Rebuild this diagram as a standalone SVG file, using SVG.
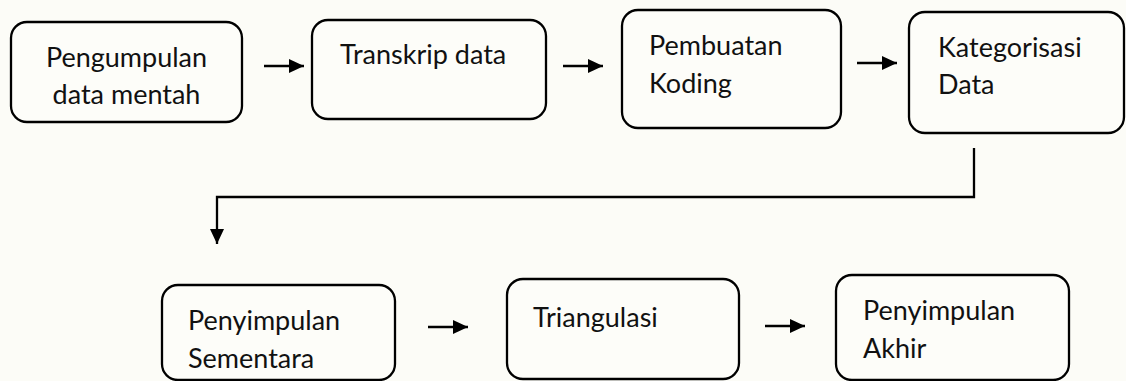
<svg xmlns="http://www.w3.org/2000/svg" width="1126" height="381" viewBox="0 0 1126 381">
<style>
.box{fill:#fdfdf9;stroke:#000;stroke-width:2.3}
.t{font-family:Lato,"Open Sans",sans-serif;font-size:27px;fill:#111}
.c{fill:none;stroke:#000;stroke-width:2.3}
</style>
<defs>
<marker id="ah" markerUnits="userSpaceOnUse" markerWidth="15" markerHeight="14" refX="15" refY="7" orient="auto">
<path d="M0,0 L15,7 L0,14 z" fill="#000"/>
</marker>
</defs>
<rect width="1126" height="381" fill="#fcfcf7"/>
<g id="n1"><rect class="box" x="11" y="22" width="231" height="100" rx="16"/>
<text class="t" x="126.5" y="67" text-anchor="middle">Pengumpulan</text>
<text class="t" x="126.5" y="104" text-anchor="middle">data mentah</text></g>
<g id="n2"><rect class="box" x="312" y="20" width="234" height="99" rx="16"/>
<text class="t" x="340" y="64">Transkrip data</text></g>
<g id="n3"><rect class="box" x="622" y="10" width="219" height="118" rx="16"/>
<text class="t" x="649" y="55">Pembuatan</text>
<text class="t" x="649" y="93">Koding</text></g>
<g id="n4"><rect class="box" x="909" y="12" width="215" height="121" rx="16"/>
<text class="t" x="938" y="57">Kategorisasi</text>
<text class="t" x="938" y="94">Data</text></g>
<g id="n5"><rect class="box" x="162" y="285" width="233" height="95" rx="16"/>
<text class="t" x="188" y="330">Penyimpulan</text>
<text class="t" x="188" y="368">Sementara</text></g>
<g id="n6"><rect class="box" x="507" y="279" width="232" height="100" rx="16"/>
<text class="t" x="533" y="327">Triangulasi</text></g>
<g id="n7"><rect class="box" x="836" y="275" width="233" height="105" rx="16"/>
<text class="t" x="863" y="320">Penyimpulan</text>
<text class="t" x="863" y="358">Akhir</text></g>
<g id="connectors">
<line class="c" x1="264" y1="66" x2="304" y2="66" marker-end="url(#ah)"/>
<line class="c" x1="563" y1="66" x2="603" y2="66" marker-end="url(#ah)"/>
<line class="c" x1="857" y1="63" x2="897" y2="63" marker-end="url(#ah)"/>
<path class="c" d="M974,148 V197 H217 V244" marker-end="url(#ah)"/>
<line class="c" x1="428" y1="327" x2="468" y2="327" marker-end="url(#ah)"/>
<line class="c" x1="765" y1="326" x2="805" y2="326" marker-end="url(#ah)"/>
</g>
</svg>
